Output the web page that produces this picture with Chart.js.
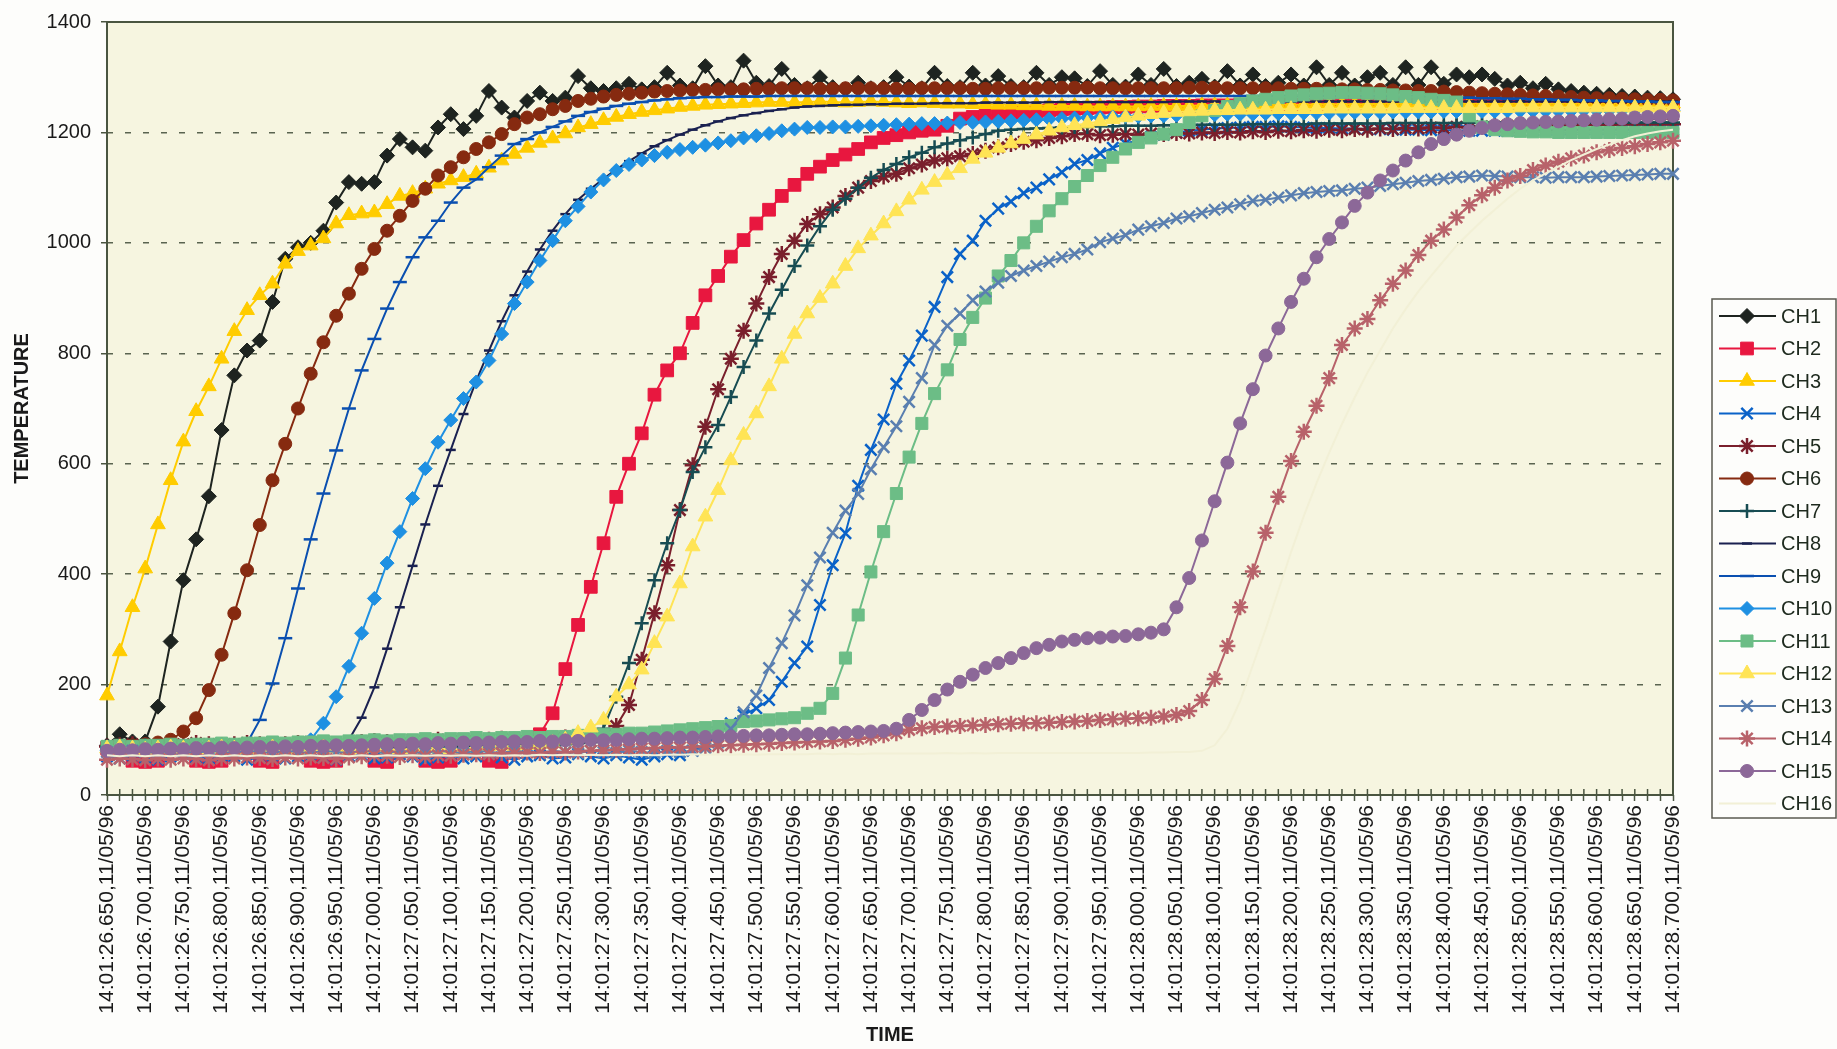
<!DOCTYPE html>
<html>
<head>
<meta charset="utf-8">
<title>Temperature vs time</title>
<script src="https://cdn.jsdelivr.net/npm/chart.js@4.4.1/dist/chart.umd.min.js"></script>
<style>
  html, body { margin: 0; padding: 0; background: #fdfdfb; }
  #wrap { width: 1837px; height: 1049px; }
</style>
</head>
<body>
<div id="wrap"><canvas id="chart" width="1837" height="1049"></canvas></div>
<script>
// Tick labels shown under the axis (one every third sample)
const tickLabels = [
  '14:01:26.650,11/05/96', '14:01:26.700,11/05/96', '14:01:26.750,11/05/96', '14:01:26.800,11/05/96',
  '14:01:26.850,11/05/96', '14:01:26.900,11/05/96', '14:01:26.950,11/05/96', '14:01:27.000,11/05/96',
  '14:01:27.050,11/05/96', '14:01:27.100,11/05/96', '14:01:27.150,11/05/96', '14:01:27.200,11/05/96',
  '14:01:27.250,11/05/96', '14:01:27.300,11/05/96', '14:01:27.350,11/05/96', '14:01:27.400,11/05/96',
  '14:01:27.450,11/05/96', '14:01:27.500,11/05/96', '14:01:27.550,11/05/96', '14:01:27.600,11/05/96',
  '14:01:27.650,11/05/96', '14:01:27.700,11/05/96', '14:01:27.750,11/05/96', '14:01:27.800,11/05/96',
  '14:01:27.850,11/05/96', '14:01:27.900,11/05/96', '14:01:27.950,11/05/96', '14:01:28.000,11/05/96',
  '14:01:28.050,11/05/96', '14:01:28.100,11/05/96', '14:01:28.150,11/05/96', '14:01:28.200,11/05/96',
  '14:01:28.250,11/05/96', '14:01:28.300,11/05/96', '14:01:28.350,11/05/96', '14:01:28.400,11/05/96',
  '14:01:28.450,11/05/96', '14:01:28.500,11/05/96', '14:01:28.550,11/05/96', '14:01:28.600,11/05/96',
  '14:01:28.650,11/05/96', '14:01:28.700,11/05/96'
];
const labelEvery = 3;

// Channel readings, one value per sample
const ch1 = [90,110,97,97,160,278,389,463,541,661,
  760,805,823,893,971,992,1000,1022,1073,1110,
  1107,1110,1158,1188,1173,1167,1209,1233,1206,1230,
  1275,1245,1227,1257,1272,1257,1263,1302,1280,1275,
  1280,1288,1278,1282,1308,1285,1280,1320,1285,1282,
  1330,1290,1284,1315,1286,1280,1300,1282,1278,1290,
  1280,1282,1300,1283,1280,1308,1284,1282,1308,1285,
  1302,1284,1282,1308,1286,1300,1298,1284,1311,1286,
  1283,1305,1286,1315,1284,1290,1297,1283,1311,1285,
  1305,1284,1290,1305,1285,1318,1286,1308,1285,1300,
  1308,1286,1318,1286,1318,1288,1305,1300,1305,1297,
  1285,1290,1280,1288,1278,1275,1272,1270,1268,1266,
  1265,1263,1262,1260];
const ch2 = [85,88,62,60,62,85,88,62,60,62,
  85,88,62,60,85,88,62,60,62,85,
  88,62,60,85,88,62,60,62,85,88,
  62,60,90,95,110,148,228,308,377,456,
  540,600,655,725,769,800,855,905,940,975,
  1005,1035,1060,1085,1105,1125,1138,1150,1160,1170,
  1182,1190,1195,1200,1203,1205,1212,1225,1228,1230,
  1232,1234,1236,1238,1240,1242,1243,1244,1245,1246,
  1246,1247,1247,1248,1248,1248,1249,1249,1249,1250,
  1250,1250,1250,1250,1250,1250,1250,1251,1251,1251,
  1251,1251,1250,1250,1250,1250,1250,1250,1250,1250,
  1250,1250,1250,1250,1250,1250,1250,1250,1250,1250,
  1250,1250,1250,1250];
const ch3 = [180,260,340,410,490,570,640,695,740,790,
  840,878,905,926,962,985,995,1008,1035,1050,
  1053,1055,1070,1085,1090,1098,1107,1113,1119,1125,
  1136,1149,1161,1172,1181,1189,1198,1209,1215,1222,
  1228,1233,1237,1240,1243,1246,1248,1250,1251,1252,
  1253,1254,1255,1255,1254,1255,1256,1255,1254,1255,
  1256,1255,1254,1253,1254,1253,1252,1252,1251,1251,
  1250,1250,1249,1249,1248,1248,1248,1247,1247,1247,
  1247,1247,1248,1248,1248,1248,1249,1249,1249,1249,
  1250,1250,1250,1250,1250,1251,1251,1251,1251,1251,
  1252,1252,1252,1252,1252,1252,1252,1252,1252,1252,
  1252,1252,1252,1252,1252,1252,1252,1252,1252,1252,
  1252,1252,1252,1252];
const ch4 = [70,66,72,68,64,70,74,68,66,72,
  70,64,68,72,66,70,74,68,64,70,
  72,66,68,74,70,64,68,72,66,70,
  74,68,64,70,72,66,68,74,70,66,
  72,68,64,70,74,72,80,90,110,130,
  145,157,172,205,239,269,344,416,474,560,
  625,680,745,787,832,884,938,980,1004,1040,
  1062,1075,1090,1100,1115,1128,1143,1150,1162,1172,
  1180,1186,1192,1196,1200,1203,1205,1207,1208,1209,
  1210,1210,1211,1210,1209,1208,1208,1207,1207,1206,
  1206,1205,1205,1205,1204,1204,1204,1203,1203,1203,
  1203,1203,1204,1204,1204,1205,1205,1205,1205,1205,
  1205,1205,1205,1205];
const ch5 = [88,90,92,90,88,90,92,94,92,90,
  92,94,92,90,92,94,96,94,92,94,
  96,98,96,94,96,98,100,98,96,98,
  100,102,100,98,100,102,104,102,104,110,
  125,163,245,329,416,516,597,667,735,790,
  841,890,938,980,1004,1034,1052,1064,1085,1100,
  1112,1120,1125,1135,1142,1149,1153,1157,1161,1167,
  1173,1179,1183,1186,1190,1193,1197,1197,1195,1196,
  1197,1196,1198,1197,1199,1198,1200,1199,1201,1200,
  1202,1201,1203,1202,1204,1203,1205,1204,1206,1205,
  1207,1206,1208,1207,1209,1208,1210,1209,1211,1210,
  1212,1211,1213,1212,1213,1213,1214,1214,1214,1215,
  1215,1215,1215,1215];
const ch6 = [85,88,90,92,95,100,115,139,190,254,
  329,407,489,570,636,700,763,820,868,908,
  953,989,1022,1049,1076,1098,1122,1137,1155,1170,
  1182,1197,1215,1227,1233,1242,1248,1257,1261,1265,
  1268,1270,1272,1274,1275,1276,1277,1277,1278,1278,
  1278,1279,1279,1280,1280,1280,1279,1279,1280,1280,
  1280,1280,1279,1279,1280,1280,1280,1280,1279,1279,
  1280,1280,1280,1280,1281,1281,1281,1281,1280,1280,
  1280,1280,1280,1280,1280,1281,1281,1281,1280,1280,
  1280,1280,1280,1279,1279,1279,1278,1278,1278,1277,
  1277,1276,1276,1275,1275,1274,1273,1272,1271,1270,
  1269,1268,1267,1266,1265,1264,1263,1262,1262,1261,
  1260,1259,1259,1258];
const ch7 = [88,86,88,90,88,86,88,90,88,86,
  88,90,88,86,88,90,88,86,88,90,
  88,86,88,90,88,86,88,90,88,86,
  88,90,88,90,92,90,92,94,96,120,
  178,239,311,389,456,516,585,630,670,721,
  775,823,872,915,958,995,1030,1060,1080,1100,
  1118,1132,1143,1155,1163,1173,1180,1186,1191,1197,
  1203,1205,1206,1207,1208,1209,1210,1210,1211,1211,
  1212,1212,1212,1213,1213,1213,1214,1214,1214,1214,
  1215,1215,1215,1215,1215,1216,1216,1216,1216,1216,
  1216,1217,1217,1217,1217,1217,1217,1218,1218,1218,
  1218,1218,1218,1218,1218,1218,1218,1218,1218,1218,
  1218,1218,1218,1218];
const ch8 = [85,84,86,85,84,86,85,84,86,85,
  84,86,85,84,86,85,84,86,85,100,
  140,195,265,340,415,490,560,625,690,750,
  805,858,905,948,988,1022,1052,1078,1098,1116,
  1133,1148,1162,1175,1186,1196,1205,1213,1220,1226,
  1231,1235,1239,1242,1245,1247,1248,1249,1250,1250,
  1251,1251,1252,1252,1252,1253,1253,1253,1253,1254,
  1254,1254,1254,1254,1255,1255,1255,1255,1255,1255,
  1255,1255,1255,1255,1256,1256,1256,1256,1256,1256,
  1256,1256,1256,1256,1256,1256,1256,1256,1256,1256,
  1256,1256,1256,1256,1256,1256,1256,1256,1256,1256,
  1256,1256,1256,1256,1256,1256,1256,1256,1256,1256,
  1256,1256,1256,1256];
const ch9 = [85,86,84,85,86,84,85,86,84,85,
  86,94,136,202,284,374,463,546,624,700,
  769,826,881,929,974,1010,1040,1073,1100,1115,
  1137,1158,1179,1188,1200,1210,1220,1230,1237,1243,
  1248,1252,1255,1258,1260,1262,1263,1264,1264,1265,
  1265,1265,1266,1266,1266,1266,1266,1266,1266,1266,
  1266,1266,1266,1266,1266,1266,1266,1266,1266,1266,
  1266,1266,1266,1266,1266,1266,1266,1266,1266,1266,
  1266,1266,1266,1266,1266,1266,1266,1266,1266,1266,
  1266,1266,1266,1266,1266,1266,1266,1266,1266,1266,
  1266,1266,1265,1265,1264,1264,1263,1263,1262,1262,
  1261,1261,1260,1260,1259,1259,1258,1258,1257,1257,
  1256,1256,1255,1255];
const ch10 = [80,82,78,80,82,78,80,82,78,80,
  82,78,80,82,78,80,100,130,178,233,
  293,356,420,477,537,591,639,679,718,748,
  787,835,890,929,968,1004,1040,1066,1092,1114,
  1131,1142,1150,1158,1164,1169,1173,1177,1181,1185,
  1190,1194,1198,1203,1206,1209,1209,1210,1210,1211,
  1212,1213,1214,1215,1216,1216,1217,1218,1218,1219,
  1220,1221,1222,1223,1224,1225,1226,1227,1227,1228,
  1229,1229,1230,1230,1231,1231,1232,1232,1233,1233,
  1233,1234,1234,1234,1235,1235,1235,1236,1236,1236,
  1236,1237,1237,1237,1237,1238,1238,1238,1238,1238,
  1239,1239,1239,1239,1239,1239,1240,1240,1240,1240,
  1240,1240,1240,1240];
const ch11 = [88,90,88,90,90,92,90,92,92,94,
  92,94,94,96,94,96,96,98,96,98,
  98,100,98,100,100,102,100,102,102,104,
  102,104,104,106,104,106,106,108,108,110,
  110,112,112,114,116,118,120,122,124,126,
  133,134,136,138,140,148,157,184,248,326,
  404,477,546,612,673,727,770,825,865,900,
  940,968,1000,1030,1058,1080,1102,1122,1140,1155,
  1170,1182,1190,1197,1205,1218,1230,1240,1247,1252,
  1257,1260,1263,1266,1268,1270,1271,1272,1272,1271,
  1270,1268,1265,1263,1260,1258,1255,1230,1210,1205,
  1203,1202,1201,1201,1200,1200,1200,1200,1200,1200,
  1200,1200,1200,1200];
const ch12 = [84,86,84,82,84,86,84,82,84,86,
  84,82,84,86,84,82,84,86,84,82,
  84,86,84,82,84,86,84,82,84,86,
  88,90,88,90,92,94,100,112,122,136,
  178,200,227,275,323,383,450,504,552,606,
  652,691,740,790,835,872,900,926,958,990,
  1013,1035,1057,1078,1096,1110,1123,1135,1152,1163,
  1172,1180,1188,1196,1203,1209,1213,1216,1220,1224,
  1227,1230,1233,1235,1237,1238,1239,1240,1240,1241,
  1241,1241,1242,1242,1242,1242,1243,1243,1243,1243,
  1243,1243,1244,1244,1244,1244,1244,1244,1244,1244,
  1244,1245,1245,1245,1245,1245,1245,1245,1245,1245,
  1245,1245,1245,1245];
const ch13 = [78,76,80,78,76,80,78,76,80,78,
  76,80,78,76,80,78,76,80,78,76,
  80,78,76,80,78,76,80,78,76,80,
  78,76,80,78,76,80,78,76,80,78,
  76,80,78,76,80,78,80,85,95,120,
  150,180,230,275,325,380,430,475,515,545,
  590,630,668,712,755,815,850,872,896,912,
  928,940,950,958,966,974,980,988,1001,1008,
  1014,1024,1030,1036,1044,1048,1054,1060,1064,1070,
  1076,1078,1082,1086,1090,1092,1094,1095,1098,1100,
  1103,1106,1109,1112,1114,1116,1119,1120,1122,1121,
  1120,1119,1119,1118,1119,1119,1119,1120,1121,1122,
  1123,1124,1125,1125];
const ch14 = [64,66,65,63,66,64,66,65,63,66,
  66,68,67,65,68,66,68,67,65,68,
  70,72,71,69,72,70,72,71,73,74,
  74,76,75,77,76,78,77,79,80,81,
  82,83,84,85,86,86,87,88,89,90,
  91,92,93,94,95,96,97,98,100,102,
  104,108,112,118,121,123,124,125,126,127,
  128,129,130,130,131,132,133,134,136,137,
  138,139,140,142,145,152,172,210,270,340,
  405,475,540,605,658,705,755,815,845,862,
  896,926,950,978,1004,1024,1046,1068,1086,1100,
  1113,1121,1132,1140,1147,1153,1158,1164,1168,1172,
  1175,1179,1182,1185];
const ch15 = [80,82,81,83,82,84,83,85,84,86,
  85,86,87,86,88,87,89,88,90,89,
  90,91,92,91,93,92,94,93,95,94,
  95,96,97,96,98,97,99,98,100,99,
  100,101,102,102,103,104,104,105,106,106,
  107,108,108,109,110,110,111,112,113,114,
  115,116,120,136,154,172,191,205,218,230,
  239,248,257,266,272,278,281,284,285,287,
  288,291,294,300,340,393,461,532,602,673,
  735,796,845,893,935,974,1007,1037,1067,1091,
  1113,1131,1149,1164,1179,1188,1196,1203,1208,1213,
  1215,1217,1218,1219,1220,1221,1222,1223,1224,1225,
  1227,1228,1229,1230];
const ch16 = [72,70,72,70,72,70,72,70,72,70,
  72,70,72,70,72,70,72,70,72,70,
  72,70,72,71,72,71,72,71,72,71,
  72,71,72,71,73,72,73,72,73,72,
  73,72,73,72,73,73,74,73,74,73,
  74,73,74,74,74,74,75,74,75,74,
  75,75,75,75,75,75,76,75,76,75,
  76,76,76,76,76,76,76,76,76,76,
  76,76,77,77,78,78,80,90,120,170,
  235,300,370,440,505,565,620,672,720,765,
  805,845,880,912,940,968,995,1018,1040,1060,
  1080,1098,1113,1126,1138,1150,1160,1170,1178,1186,
  1193,1198,1202,1205];

const seriesNames = ['CH1', 'CH2', 'CH3', 'CH4', 'CH5', 'CH6', 'CH7', 'CH8',
  'CH9', 'CH10', 'CH11', 'CH12', 'CH13', 'CH14', 'CH15', 'CH16'];
const seriesValues = [ch1, ch2, ch3, ch4, ch5, ch6, ch7, ch8,
  ch9, ch10, ch11, ch12, ch13, ch14, ch15, ch16];

// one category per sample
const samples = ch1.map((_, i) => i);

// look of each channel
const colors = ['#1e2420', '#e8173f', '#ffcc00', '#0a62c8', '#7a1f2c', '#862a10', '#174c52', '#1a2150',
  '#0a4fb0', '#1e90e2', '#6cbd86', '#ffe455', '#5a7fb0', '#b8626a', '#8c6898', '#f2f0d6'];
const markers = ['rectRot', 'rect', 'triangle', 'crossRot', 'star', 'circle', 'cross', 'line',
  'line', 'rectRot', 'rect', 'triangle', 'crossRot', 'star', 'circle', false];
const markerRadius = [7.5, 9, 8.5, 8, 8, 6.5, 7, 5, 7, 7, 8.5, 8.5, 8, 8, 6.5, 0];
const strokeMarkers = ['crossRot', 'star', 'cross', 'line'];

Chart.defaults.font.family = "'Liberation Sans', Arial, sans-serif";
Chart.defaults.color = '#1a1a1a';

const plotFrame = {
  id: 'plotFrame',
  beforeDraw(chart) {
    const { ctx, chartArea: a } = chart;
    ctx.save();
    ctx.fillStyle = '#fdfdfb';
    ctx.fillRect(0, 0, chart.width, chart.height);
    ctx.fillStyle = '#f6f5e0';
    ctx.fillRect(a.left, a.top, a.right - a.left, a.bottom - a.top);
    ctx.restore();
  },
  beforeDatasetsDraw(chart) {
    const { ctx, chartArea: a } = chart;
    const x = chart.scales.x;
    ctx.save();
    ctx.strokeStyle = '#4a5540';
    ctx.lineWidth = 2;
    ctx.strokeRect(a.left, a.top, a.right - a.left, a.bottom - a.top);
    // tick marks crossing the axis
    ctx.lineWidth = 1.5;
    ctx.beginPath();
    samples.forEach(s => {
      const px = x.getPixelForValue(s);
      ctx.moveTo(px, a.bottom - 6);
      ctx.lineTo(px, a.bottom);
    });
    ctx.stroke();
    ctx.restore();
  }
};

// Excel style legend: line with marker, then the name
const boxLegend = {
  id: 'boxLegend',
  afterDraw(chart) {
    const ctx = chart.ctx;
    const left = 1712, top = 299, right = 1836, bottom = 818;
    const firstY = 316, step = 32.5;
    ctx.save();
    ctx.fillStyle = '#fdfdfb';
    ctx.fillRect(left, top, right - left, bottom - top);
    ctx.strokeStyle = '#5a5a50';
    ctx.lineWidth = 1.5;
    ctx.strokeRect(left, top, right - left, bottom - top);
    ctx.font = "20px 'Liberation Sans', Arial, sans-serif";
    ctx.textBaseline = 'middle';
    seriesNames.forEach((name, k) => {
      const y = firstY + k * step;
      ctx.strokeStyle = colors[k];
      ctx.fillStyle = colors[k];
      ctx.lineWidth = 2;
      ctx.beginPath();
      ctx.moveTo(1719, y);
      ctx.lineTo(1776, y);
      ctx.stroke();
      if (markers[k]) {
        ctx.lineWidth = strokeMarkers.includes(markers[k]) ? 2.5 : 1;
        Chart.helpers.drawPoint(ctx, {
          pointStyle: markers[k], rotation: 0,
          radius: markerRadius[k], borderWidth: ctx.lineWidth
        }, 1747, y);
      }
      ctx.fillStyle = '#1e2a1e';
      ctx.fillText(name, 1781, y + 1);
    });
    ctx.restore();
  }
};

const datasets = seriesValues.map((vals, k) => ({
  label: seriesNames[k],
  data: vals,
  borderColor: colors[k],
  backgroundColor: colors[k],
  borderWidth: 2,
  pointStyle: markers[k],
  pointRadius: markerRadius[k],
  pointBackgroundColor: colors[k],
  pointBorderColor: colors[k],
  pointBorderWidth: strokeMarkers.includes(markers[k]) ? 2.5 : 1,
  tension: 0,
  clip: false,
  order: seriesNames.length - k
}));

new Chart(document.getElementById('chart'), {
  type: 'line',
  data: { labels: samples, datasets },
  plugins: [plotFrame, boxLegend],
  options: {
    responsive: false,
    animation: false,
    events: [],
    layout: { padding: { top: 21, right: 164, left: 0, bottom: 0 } },
    plugins: { legend: { display: false }, tooltip: { enabled: false } },
    scales: {
      x: {
        type: 'category',
        offset: false,
        afterFit(scale) { scale.height = 254; },
        grid: { drawOnChartArea: false, tickLength: 6, tickColor: '#4a5540', tickWidth: 1.5 },
        border: { display: false },
        ticks: {
          autoSkip: false,
          minRotation: 90,
          maxRotation: 90,
          padding: 4,
          font: { size: 21 },
          callback: (v, i) => (i % labelEvery === 0 ? tickLabels[i / labelEvery] : '')
        },
        title: {
          display: true, text: 'TIME',
          font: { size: 20, weight: 'bold' },
          padding: { top: 0, bottom: 2 }
        }
      },
      y: {
        min: 0,
        max: 1400,
        afterFit(scale) { scale.width = 107; },
        grid: {
          color: c => (c.tick.value === 0 || c.tick.value === 1400 ? 'rgba(0,0,0,0)' : '#5a6450'),
          lineWidth: 1.5,
          tickLength: 6,
          tickColor: '#4a5540',
          tickWidth: 1.5
        },
        border: { display: false, dash: [6, 12] },
        ticks: { stepSize: 200, padding: 10, font: { size: 20 }, callback: v => String(v) },
        title: {
          display: true, text: 'TEMPERATURE',
          font: { size: 20, weight: 'bold' },
          padding: 10
        }
      }
    }
  }
});
</script>
</body>
</html>
